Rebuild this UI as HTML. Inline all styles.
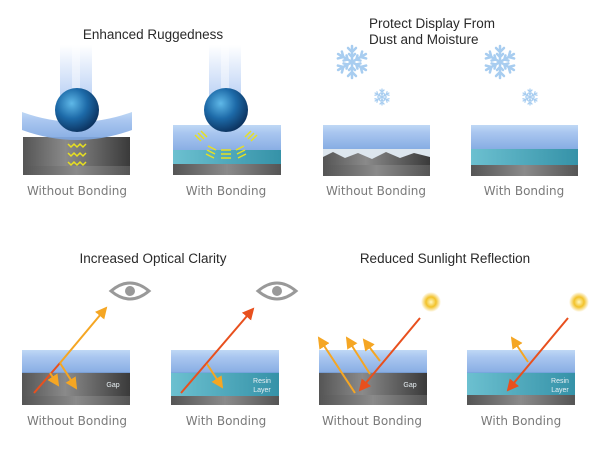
<!DOCTYPE html>
<html><head><meta charset="utf-8"><style>
html,body{margin:0;padding:0;background:#fff;width:600px;height:468px;overflow:hidden}
svg{display:block}
.t{font-family:"Liberation Sans",sans-serif;font-size:13.5px;fill:#2a2a2a}
.l{font-family:"DejaVu Sans","Liberation Sans",sans-serif;font-size:12px;fill:#7a7a7a;text-anchor:middle}
.s{font-family:"Liberation Sans",sans-serif;font-size:7px;fill:#e8f0f4;text-anchor:middle}
</style></head><body>
<svg width="600" height="468" viewBox="0 0 600 468" xmlns="http://www.w3.org/2000/svg">
<defs>
<linearGradient id="beam" x1="0" y1="0" x2="0" y2="1"><stop offset="0" stop-color="#fff"/><stop offset="1" stop-color="#9bbcf0"/></linearGradient>
<radialGradient id="ball" cx="0.38" cy="0.35" r="0.7"><stop offset="0" stop-color="#5fb8e8"/><stop offset="0.5" stop-color="#1d6aa8"/><stop offset="1" stop-color="#0b2f5a"/></radialGradient>
<linearGradient id="glass" x1="0" y1="0" x2="0" y2="1"><stop offset="0" stop-color="#b8d4f4"/><stop offset="0.3" stop-color="#a0c0ee"/><stop offset="1" stop-color="#7aa4e0"/></linearGradient>
<linearGradient id="dark" x1="0" y1="0" x2="1" y2="0"><stop offset="0" stop-color="#555"/><stop offset="0.4" stop-color="#8a8a8a"/><stop offset="1" stop-color="#3a3a3a"/></linearGradient>
<linearGradient id="base" x1="0" y1="0" x2="1" y2="0"><stop offset="0" stop-color="#555"/><stop offset="0.5" stop-color="#8a8a8a"/><stop offset="1" stop-color="#555"/></linearGradient>
<linearGradient id="resin" x1="0" y1="0" x2="1" y2="0"><stop offset="0" stop-color="#6cc0d0"/><stop offset="1" stop-color="#3592a8"/></linearGradient>
<radialGradient id="sun"><stop offset="0" stop-color="#fff8c0"/><stop offset="0.5" stop-color="#f2c22a"/><stop offset="1" stop-color="#f2c22a" stop-opacity="0"/></radialGradient>
<marker id="ao" markerWidth="8" markerHeight="8" refX="5" refY="3" orient="auto"><path d="M0,0 L6,3 L0,6 z" fill="#f5a623"/></marker>
<marker id="ar" markerWidth="8" markerHeight="8" refX="5" refY="3" orient="auto"><path d="M0,0 L6,3 L0,6 z" fill="#e8501e"/></marker>
<g id="flake" stroke-linecap="round" fill="none">
<path d="M0,-16V16M-13.9,-8L13.9,8M-13.9,8L13.9,-8"/>
<g id="br"><path d="M0,-10l-4,-4M0,-10l4,-4M0,-5l-3,-3M0,-5l3,-3"/></g>
<use href="#br" transform="rotate(60)"/><use href="#br" transform="rotate(120)"/><use href="#br" transform="rotate(180)"/><use href="#br" transform="rotate(240)"/><use href="#br" transform="rotate(300)"/>
</g>
</defs>

<text class="t" x="153" y="39" text-anchor="middle">Enhanced Ruggedness</text>
<text class="t" x="369" y="28">Protect Display From</text>
<text class="t" x="369" y="44">Dust and Moisture</text>
<text class="t" x="153" y="263" text-anchor="middle">Increased Optical Clarity</text>
<text class="t" x="445" y="263" text-anchor="middle">Reduced Sunlight Reflection</text>

<!-- Panel 1 -->
<rect x="60" y="45" width="12" height="55" fill="url(#beam)" opacity="0.7"/>
<rect x="80" y="45" width="12" height="55" fill="url(#beam)" opacity="0.7"/>
<rect x="72" y="45" width="8" height="55" fill="url(#beam)" opacity="0.4"/>
<rect x="23" y="137" width="107" height="30" fill="url(#dark)"/>
<rect x="23" y="166" width="107" height="9" fill="url(#base)"/>
<path d="M22,112 Q77,132 132,112 L132,130 Q77,150 22,130 Z" fill="url(#glass)" opacity="0.9"/>
<circle cx="77" cy="110" r="22" fill="url(#ball)"/>
<g stroke="#e8e020" stroke-width="1.5" fill="none">
<path d="M68,144 l3,3 l3,-3 l3,3 l3,-3 l3,3 l3,-3"/>
<path d="M68,153 l3,3 l3,-3 l3,3 l3,-3 l3,3 l3,-3"/>
<path d="M68,162 l3,3 l3,-3 l3,3 l3,-3 l3,3 l3,-3"/>
</g>
<text class="l" x="77" y="195">Without Bonding</text>

<!-- Panel 2 -->
<rect x="209" y="45" width="12" height="55" fill="url(#beam)" opacity="0.7"/>
<rect x="229" y="45" width="12" height="55" fill="url(#beam)" opacity="0.7"/>
<rect x="221" y="45" width="8" height="55" fill="url(#beam)" opacity="0.4"/>
<rect x="173" y="125" width="108" height="26" fill="url(#glass)" opacity="0.9"/>
<rect x="173" y="150" width="108" height="14" fill="url(#resin)"/>
<rect x="173" y="164" width="108" height="11" fill="url(#base)"/>
<circle cx="226" cy="110" r="22" fill="url(#ball)"/>
<g stroke="#e8e020" stroke-width="1.5">
<path d="M195,135 l6,6 M198,133 l6,6 M201,131 l6,6"/>
<path d="M257,135 l-6,6 M254,133 l-6,6 M251,131 l-6,6"/>
<path d="M208,146 l8,4 M207,150 l8,4 M206,154 l8,4"/>
<path d="M244,146 l-8,4 M245,150 l-8,4 M246,154 l-8,4"/>
<path d="M221,150 h10 M221,154 h10 M221,158 h10"/>
</g>
<text class="l" x="226" y="195">With Bonding</text>

<!-- Snowflakes -->
<g stroke="#a8cdf0" stroke-width="2.5">
<use href="#flake" transform="translate(352,62)"/>
<use href="#flake" transform="translate(500,62)"/>
</g>
<g stroke="#a8cdf0" stroke-width="2.5">
<use href="#flake" transform="translate(382,97) scale(0.5)"/>
<use href="#flake" transform="translate(530,97) scale(0.5)"/>
</g>

<!-- Panel 3 -->
<rect x="323" y="125" width="107" height="24" fill="url(#glass)" opacity="0.9"/>
<rect x="323" y="149" width="107" height="16" fill="#dde6ee"/>
<path d="M323,165 L323,157 L333,152 L345,158 L358,153 L372,159 L386,152 L400,158 L414,153 L430,157 L430,165 Z" fill="url(#dark)"/>
<rect x="323" y="165" width="107" height="11" fill="url(#base)"/>
<text class="l" x="376" y="195">Without Bonding</text>

<!-- Panel 4 -->
<rect x="471" y="125" width="107" height="24" fill="url(#glass)" opacity="0.9"/>
<rect x="471" y="149" width="107" height="16" fill="url(#resin)"/>
<rect x="471" y="165" width="107" height="11" fill="url(#base)"/>
<text class="l" x="524" y="195">With Bonding</text>

<!-- Bottom panel 1 -->
<rect x="22" y="372" width="108" height="25" fill="url(#dark)"/>
<rect x="22" y="396" width="108" height="9" fill="url(#base)"/>
<rect x="22" y="350" width="108" height="23" fill="url(#glass)" opacity="0.9"/>
<text class="s" x="113" y="387">Gap</text>
<line x1="34" y1="393" x2="60" y2="363" stroke="#e8501e" stroke-width="2"/>
<line x1="60" y1="363" x2="106" y2="308" stroke="#f5a623" stroke-width="2" marker-end="url(#ao)"/>
<line x1="50" y1="373" x2="58" y2="385" stroke="#f5a623" stroke-width="2" marker-end="url(#ao)"/>
<line x1="60" y1="363" x2="76" y2="388" stroke="#f5a623" stroke-width="2" marker-end="url(#ao)"/>
<g transform="translate(130,291)"><path d="M-19,0 Q0,-16 19,0 Q0,16 -19,0Z" fill="none" stroke="#999" stroke-width="3"/><circle r="5" fill="#999"/></g>
<text class="l" x="77" y="425">Without Bonding</text>

<!-- Bottom panel 2 -->
<rect x="171" y="372" width="108" height="25" fill="url(#resin)"/>
<rect x="171" y="396" width="108" height="9" fill="url(#base)"/>
<rect x="171" y="350" width="108" height="23" fill="url(#glass)" opacity="0.9"/>
<text class="s" x="262" y="383">Resin</text><text class="s" x="262" y="392">Layer</text>
<line x1="181" y1="393" x2="253" y2="309" stroke="#e8501e" stroke-width="2" marker-end="url(#ar)"/>
<line x1="207" y1="364" x2="222" y2="387" stroke="#f5a623" stroke-width="2" marker-end="url(#ao)"/>
<g transform="translate(277,291)"><path d="M-19,0 Q0,-16 19,0 Q0,16 -19,0Z" fill="none" stroke="#999" stroke-width="3"/><circle r="5" fill="#999"/></g>
<text class="l" x="226" y="425">With Bonding</text>

<!-- Bottom panel 3 -->
<rect x="319" y="372" width="108" height="24" fill="url(#dark)"/>
<rect x="319" y="395" width="108" height="10" fill="url(#base)"/>
<rect x="319" y="350" width="108" height="23" fill="url(#glass)" opacity="0.9"/>
<text class="s" x="410" y="387">Gap</text>
<circle cx="431" cy="302" r="10" fill="url(#sun)"/>
<line x1="420" y1="318" x2="360" y2="390" stroke="#e8501e" stroke-width="2" marker-end="url(#ar)"/>
<line x1="355" y1="393" x2="319" y2="338" stroke="#f5a623" stroke-width="2" marker-end="url(#ao)"/>
<line x1="370" y1="374" x2="347" y2="338" stroke="#f5a623" stroke-width="2" marker-end="url(#ao)"/>
<line x1="380" y1="361" x2="364" y2="340" stroke="#f5a623" stroke-width="2" marker-end="url(#ao)"/>
<text class="l" x="372" y="425">Without Bonding</text>

<!-- Bottom panel 4 -->
<rect x="467" y="372" width="108" height="24" fill="url(#resin)"/>
<rect x="467" y="395" width="108" height="10" fill="url(#base)"/>
<rect x="467" y="350" width="108" height="23" fill="url(#glass)" opacity="0.9"/>
<text class="s" x="560" y="383">Resin</text><text class="s" x="560" y="392">Layer</text>
<circle cx="579" cy="302" r="10" fill="url(#sun)"/>
<line x1="568" y1="318" x2="508" y2="390" stroke="#e8501e" stroke-width="2" marker-end="url(#ar)"/>
<line x1="528" y1="362" x2="512" y2="338" stroke="#f5a623" stroke-width="2" marker-end="url(#ao)"/>
<text class="l" x="521" y="425">With Bonding</text>
</svg>
</body></html>
